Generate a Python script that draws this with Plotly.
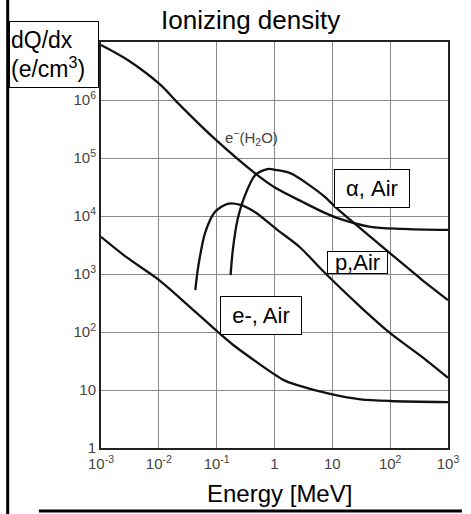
import plotly.graph_objects as go

# ---- data ----
eh2o_E = [0.001, 0.0029, 0.0107, 0.0204, 0.09, 0.457, 1.07, 3.09, 7.59, 12.0, 45.7, 158, 1000]
eh2o_Q = [8.9e6, 4.9e6, 1.82e6, 9.3e5, 2.2e5, 5.5e4, 3.0e4, 1.74e4, 1.12e4, 9.3e3, 6.5e3, 6.0e3, 5.75e3]

alpha_E = [0.174, 0.19, 0.229, 0.302, 0.468, 0.759, 1.12, 1.62, 2.14, 3.89, 7.41, 12.0, 19.5, 45.7, 158, 355, 1000]
alpha_Q = [955, 2570, 8510, 21400, 51300, 64600, 61700, 57500, 51300, 34700, 21400, 13500, 8900, 4370, 1550, 794, 355]

p_E = [0.0427, 0.0479, 0.0631, 0.0933, 0.155, 0.257, 0.457, 1.12, 2.69, 7.41, 30.9, 100, 355, 1000]
p_Q = [525, 1320, 5130, 11700, 16200, 15500, 11700, 5750, 2950, 1050, 269, 95.5, 37.2, 16.2]

eair_E = [0.001, 0.00275, 0.01, 0.0347, 0.105, 0.191, 1.45, 2.40, 9.55, 30.9, 100, 1000]
eair_Q = [4370, 1950, 794, 269, 100, 60.3, 14.8, 12.3, 8.51, 6.92, 6.46, 6.17]

x_tickvals = [1e-3, 1e-2, 1e-1, 1, 10, 100, 1000]
x_ticktext = ["10<sup>-3</sup>", "10<sup>-2</sup>", "10<sup>-1</sup>", "1", "10", "10<sup>2</sup>", "10<sup>3</sup>"]
y_tickvals = [1, 10, 100, 1e3, 1e4, 1e5, 1e6, 1e7]
y_ticktext = ["1", "10", "10<sup>2</sup>", "10<sup>3</sup>", "10<sup>4</sup>", "10<sup>5</sup>", "10<sup>6</sup>", ""]

FONT = "Liberation Sans, Arial, sans-serif"

fig = go.Figure()
for xs, ys in [(eh2o_E, eh2o_Q), (alpha_E, alpha_Q), (p_E, p_Q), (eair_E, eair_Q)]:
    fig.add_trace(go.Scatter(x=xs, y=ys, mode="lines",
                             line=dict(color="#111", width=2.3, shape="spline", smoothing=0.8),
                             showlegend=False, hoverinfo="skip"))

axis_common = dict(type="log", showline=True, mirror=True, linecolor="#222", linewidth=2,
                   showgrid=True, gridcolor="#8a8a8a", gridwidth=1.4, zeroline=False,
                   ticks="", tickfont=dict(family=FONT, size=15, color="#444"))
fig.update_xaxes(range=[-3, 3], tickvals=x_tickvals, ticktext=x_ticktext,
                 ticklabelstandoff=1, **axis_common)
fig.update_yaxes(range=[0, 7], tickvals=y_tickvals, ticktext=y_ticktext, **axis_common)

ctr = dict(xanchor="center", yanchor="middle", showarrow=False)
annotations = [
    dict(text="Ionizing density", x=0.43, y=1.054, xref="paper", yref="paper",
         font=dict(family=FONT, size=26, color="#000"), **ctr),
    dict(text="Energy [MeV]", x=0.515, y=-0.113, xref="paper", yref="paper",
         font=dict(family=FONT, size=24, color="#000"), **ctr),
    dict(text="dQ/dx<br>(e/cm<sup>3</sup>)", x=-0.136, y=0.969, xref="paper", yref="paper",
         align="left", width=86, height=63, bgcolor="white",
         bordercolor="#000", borderwidth=1, borderpad=1,
         font=dict(family=FONT, size=23, color="#000"), **ctr),
    dict(text="e<sup>\u2212</sup>(H<sub>2</sub>O)", x=-0.40, y=5.36, xref="x", yref="y",
         font=dict(family=FONT, size=15, color="#444"), **ctr),
    dict(text="\u03b1, Air", x=1.69, y=4.48, xref="x", yref="y",
         width=74, height=37, bgcolor="white", bordercolor="#000", borderwidth=1, borderpad=0,
         font=dict(family=FONT, size=22, color="#000"), **ctr),
    dict(text="p,Air", x=1.44, y=3.19, xref="x", yref="y",
         width=59, height=21, bgcolor="white", bordercolor="#000", borderwidth=1, borderpad=0,
         font=dict(family=FONT, size=22, color="#000"), **ctr),
    dict(text="e-, Air", x=-0.24, y=2.29, xref="x", yref="y",
         width=80, height=37, bgcolor="white", bordercolor="#000", borderwidth=1, borderpad=0,
         font=dict(family=FONT, size=22, color="#000"), **ctr),
]

shapes = [
    dict(type="line", xref="paper", yref="paper", x0=-0.2689, x1=-0.2689, y0=1.11, y1=-0.17,
         line=dict(color="#000", width=3)),
    dict(type="line", xref="paper", yref="paper", x0=-0.179, x1=1.04, y0=-0.155, y1=-0.155,
         line=dict(color="#000", width=3)),
]

fig.update_layout(width=471, height=514, margin=dict(l=101, r=13, t=42, b=66),
                  paper_bgcolor="white", plot_bgcolor="white",
                  annotations=annotations, shapes=shapes, showlegend=False)

fig.write_html("out.html", config={"displayModeBar": False},
               post_script="document.body.style.margin='0';document.body.style.overflow='hidden';")
